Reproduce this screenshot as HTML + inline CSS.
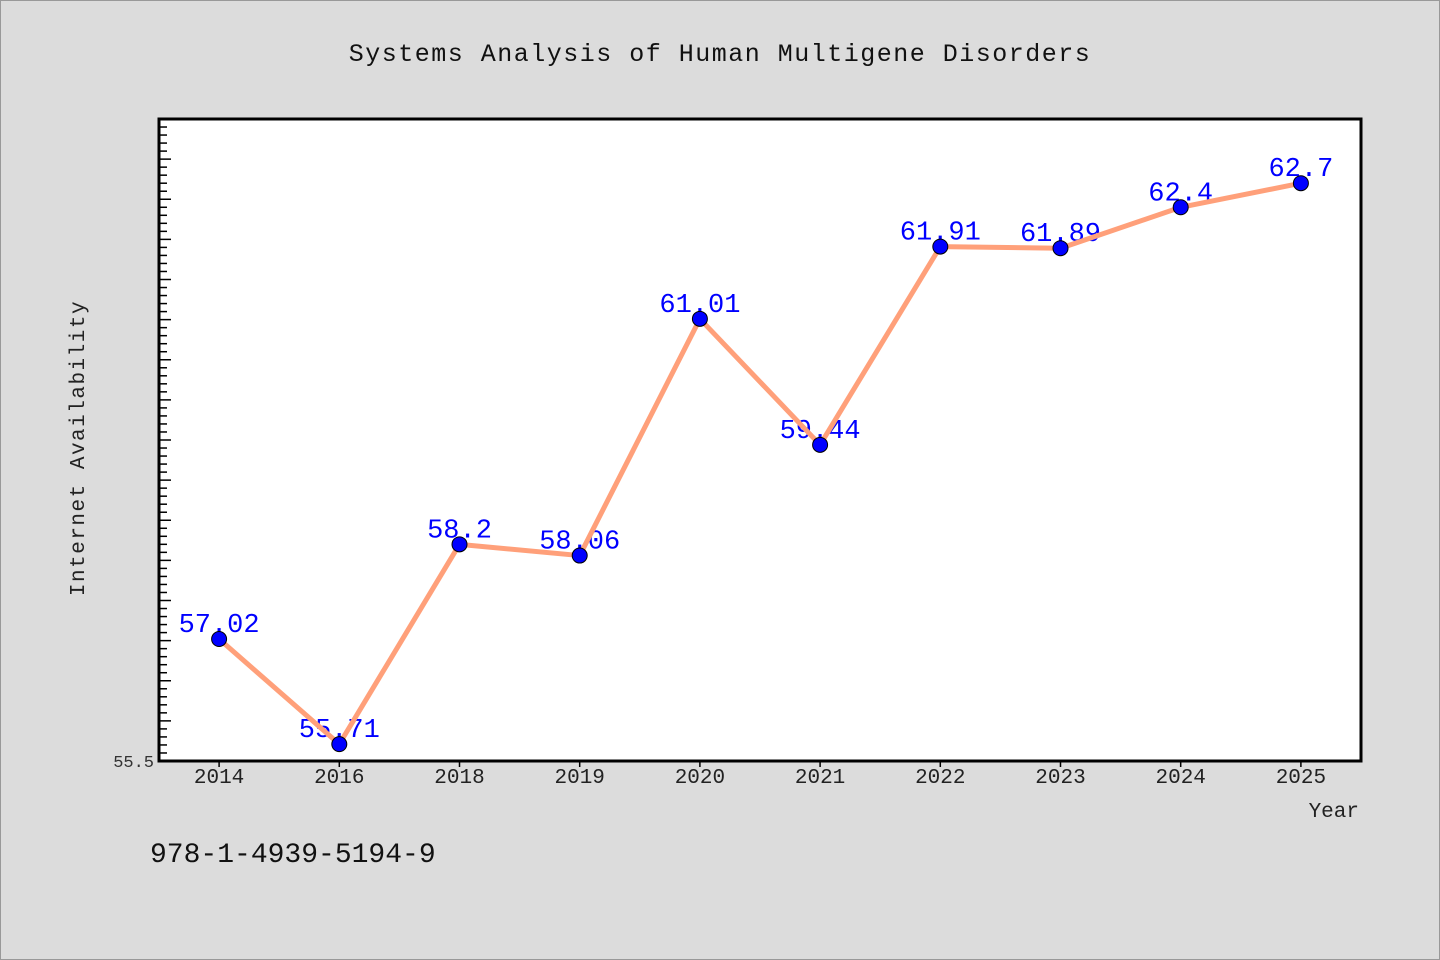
<!DOCTYPE html>
<html><head><meta charset="utf-8"><style>
html,body{margin:0;padding:0;background:#dcdcdc;}
svg{display:block;font-family:"WenQuanYi Zen Hei","Liberation Mono",monospace;}
</style></head><body>
<svg id="chart" width="1440" height="960" xmlns="http://www.w3.org/2000/svg">
<rect x="0.5" y="0.5" width="1439" height="959" fill="#dcdcdc" stroke="#999"/>
<text x="720" y="61" text-anchor="middle" font-size="25" fill="#111" letter-spacing="1.5">Systems Analysis of Human Multigene Disorders</text>
<rect x="159" y="119" width="1202" height="642" fill="#fff" stroke="#000" stroke-width="3"/>
<g id="yticks"></g><g id="xticks"></g><g id="labels"></g><g id="series"></g><g id="points"></g>
<text transform="translate(84,448) rotate(-90)" text-anchor="middle" font-size="21" fill="#222" letter-spacing="1.5">Internet Availability</text>
<text x="1359" y="817" text-anchor="end" font-size="21" fill="#222">Year</text>
<text x="150" y="862" font-size="28" fill="#111">978-1-4939-5194-9</text>
</svg>
<script>
const categories = ["2014","2016","2018","2019","2020","2021","2022","2023","2024","2025"];
const values = [57.02,55.71,58.2,58.06,61.01,59.44,61.91,61.89,62.4,62.7];
const valueLabels = ["57.02","55.71","58.2","58.06","61.01","59.44","61.91","61.89","62.4","62.7"];
const yMin = 55.5, yMax = 63.5;
const yTickLabels = ["55.5"];
const L=159,R=1361,T=119,B=761;
const NS="http://www.w3.org/2000/svg";
const bw=(R-L)/categories.length;
const x=i=>L+bw*(i+0.5);
const y=v=>B-(v-yMin)/(yMax-yMin)*(B-T);
function mk(t,a,p){const e=document.createElementNS(NS,t);for(const k in a)e.setAttribute(k,a[k]);p.appendChild(e);return e;}
const yt=document.getElementById('yticks');
for(let k=1;k<(yMax-yMin)/0.1-0.5;k++){
  const v=yMin+k*0.1, yy=y(v), major=k%5===0;
  const ln=mk('line',{x1:L,x2:L+(major?12:8),y1:yy,y2:yy,stroke:'#000','stroke-width':1.5},yt);
  
  
}
yTickLabels.forEach(s=>{
  const t=mk('text',{x:L-5,y:y(parseFloat(s))+6,'text-anchor':'end','font-size':17,fill:'#333'},yt);
  t.textContent=s;
  
  
});
const xt=document.getElementById('xticks');
categories.forEach((c,i)=>{
  const ln=mk('line',{x1:x(i),x2:x(i),y1:B,y2:B+6,stroke:'#000','stroke-width':1.5},xt);
  
  
  const t=mk('text',{x:x(i),y:B+22,'text-anchor':'middle','font-size':21,fill:'#222'},xt);
  t.textContent=c;
  
  
});
const lb=document.getElementById('labels');
values.forEach((v,i)=>{
  const t=mk('text',{x:x(i),y:y(v)-7,'text-anchor':'middle','font-size':27,fill:'#0000ff'},lb);
  t.textContent=valueLabels[i];
  
  
});
const pl=mk('polyline',{points:values.map((v,i)=>x(i)+','+y(v)).join(' '),fill:'none',stroke:'#ffa07a','stroke-width':5,'stroke-linejoin':'round'},document.getElementById('series'));


const pt=document.getElementById('points');
values.forEach((v,i)=>{
  const c=mk('circle',{cx:x(i),cy:y(v),r:7.5,fill:'#0000ff',stroke:'#000','stroke-width':1},pt);
  
  
});
</script>
</body></html>
